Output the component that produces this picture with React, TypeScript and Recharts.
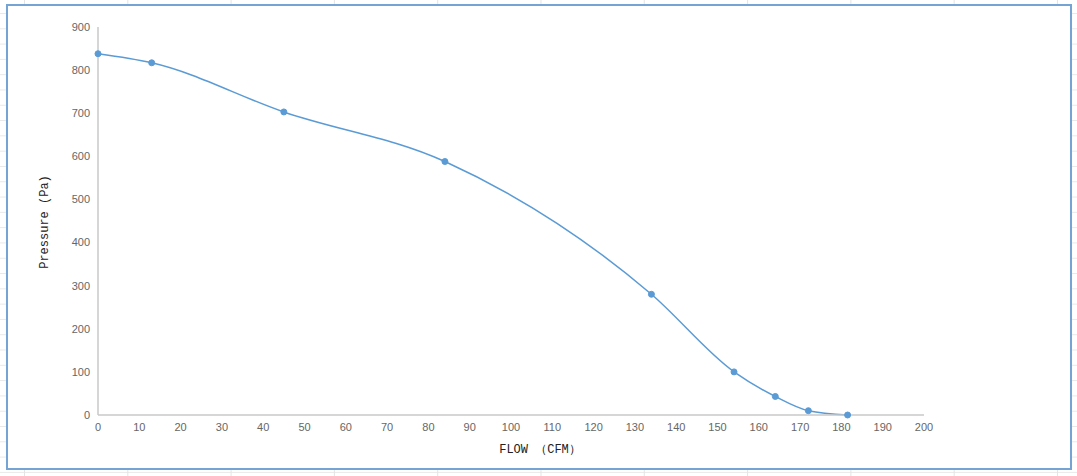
import React from 'react';
import { LineChart, Line, XAxis, YAxis } from 'recharts';

const flowValues = [0, 13, 45, 84, 134, 154, 164, 172, 181.5];
const pressureValues = [838, 817, 703, 588, 280, 100, 43, 10, 0];
const xTicks = [0, 10, 20, 30, 40, 50, 60, 70, 80, 90, 100, 110, 120, 130, 140, 150, 160, 170, 180, 190, 200];
const yTicks = [0, 100, 200, 300, 400, 500, 600, 700, 800, 900];
const xTitle = 'FLOW （CFM）';
const yTitle = 'Pressure (Pa)';

const data = flowValues.map((f, i) => ({ flow: f, pressure: pressureValues[i] }));

const tickStyle = { fill: '#666666', fontSize: 11, fontFamily: 'Liberation Sans, Arial, sans-serif' };
const titleFont = '"Liberation Mono", "DejaVu Sans Mono", monospace';

export default function App() {
  return (
    <div style={{ position: 'absolute', left: 0, top: 0, width: 1077, height: 476, overflow: 'hidden',
      backgroundColor: '#ffffff',
      backgroundImage: 'linear-gradient(to right, #e4e4e4 1px, transparent 1px), linear-gradient(to bottom, #e8e8e8 1px, transparent 1px)',
      backgroundSize: '103.3px 15.3px',
      backgroundPosition: '24px 13px' }}>
      <div style={{ position: 'absolute', left: 6, top: 4, width: 1062, height: 462, border: '2px solid #74a3d4', background: '#fff' }}>
        <LineChart width={1062} height={462} data={data} margin={{ top: 21, right: 146, bottom: 23, left: 30 }}>
          <XAxis type="number" dataKey="flow" domain={[0, 200]} ticks={xTicks} interval={0}
            tickLine={false} axisLine={{ stroke: '#c8c8c8', strokeWidth: 1.5 }} tick={tickStyle} height={30} />
          <YAxis type="number" domain={[0, 900]} ticks={yTicks} interval={0}
            tickLine={false} axisLine={{ stroke: '#c8c8c8', strokeWidth: 1.5 }} tick={tickStyle} width={60} />
          <Line type="monotone" dataKey="pressure" stroke="#5b9bd5" strokeWidth={1.5}
            dot={{ r: 3, fill: '#5b9bd5', stroke: '#5b9bd5', strokeWidth: 1 }} isAnimationActive={false} />
        </LineChart>
        <div style={{ position: 'absolute', left: 540 - 8 - 100, top: 443 - 6, width: 200, textAlign: 'center',
          fontFamily: titleFont, fontSize: 12, color: '#222', lineHeight: '14px' }}>{xTitle}</div>
        <div style={{ position: 'absolute', left: 45 - 8 - 60, top: 222 - 6 - 7, width: 120, textAlign: 'center',
          transform: 'rotate(-90deg)', fontFamily: titleFont, fontSize: 12, color: '#222', lineHeight: '14px' }}>{yTitle}</div>
      </div>
    </div>
  );
}
